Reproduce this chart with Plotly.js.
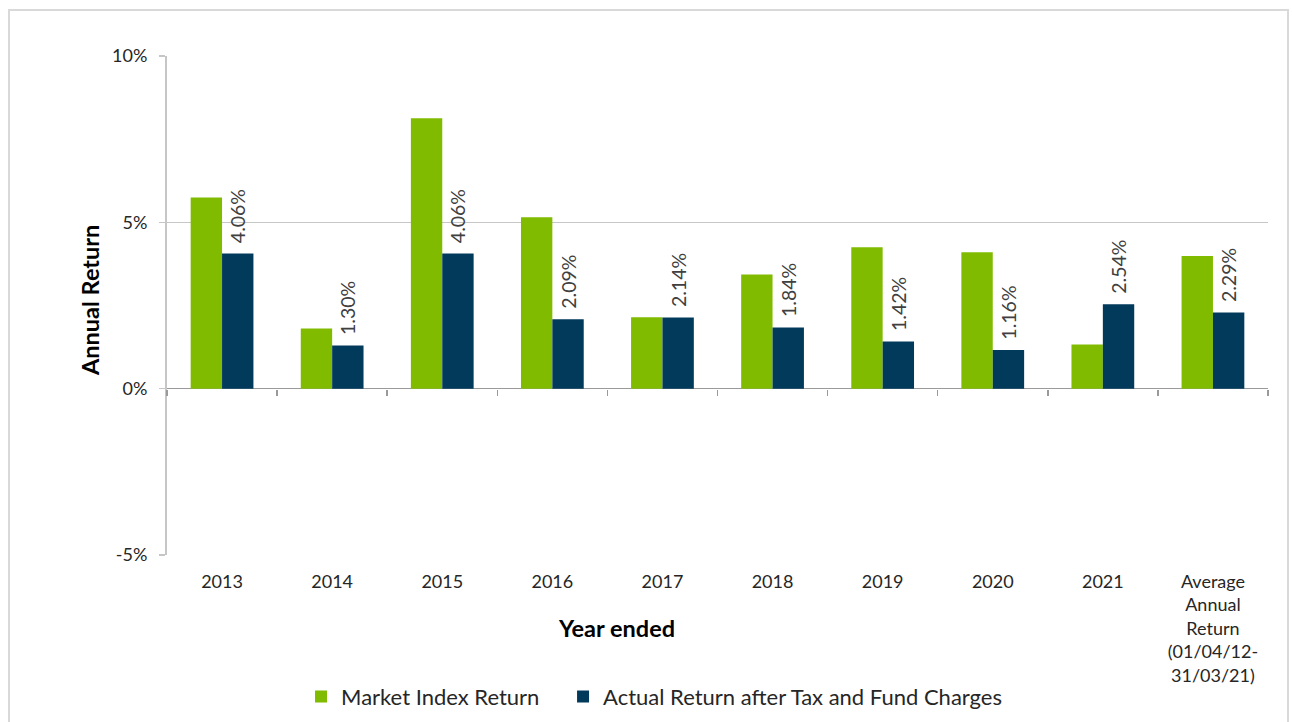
<!DOCTYPE html>
<html>
<head>
<meta charset="utf-8">
<script src="https://cdn.plot.ly/plotly-3.0.1.min.js"></script>
<style>
  html, body { margin: 0; padding: 0; background: #ffffff; }
  #wrap { position: relative; width: 1292px; height: 722px; overflow: hidden; }
  #chart { position: absolute; left: 0; top: 0; width: 1292px; height: 722px; }
  #frame { position: absolute; left: 8px; top: 9px; width: 1281px; height: 730px;
           border: 2px solid #d9d9d9; pointer-events: none; box-sizing: border-box; }
</style>
</head>
<body>
<div id="wrap">
  <div id="chart"></div>
  <div id="frame"></div>
</div>
<script>
const categories = ['2013', '2014', '2015', '2016', '2017', '2018', '2019', '2020', '2021',
  'Average<br>Annual<br>Return<br>(01/04/12-<br>31/03/21)'];
const marketIndexReturn = [5.75, 1.81, 8.13, 5.15, 2.15, 3.43, 4.25, 4.10, 1.33, 3.99];
const actualReturn = [4.06, 1.30, 4.06, 2.09, 2.14, 1.84, 1.42, 1.16, 2.54, 2.29];
const seriesNames = ['Market Index Return', 'Actual Return after Tax and Fund Charges'];
const yTickVals = [-5, 0, 5, 10];
const yTickText = ['-5%', '0%', '5%', '10%'];
const xTitle = 'Year ended';
const yTitle = 'Annual Return';

const FONT = 'Lato, "Open Sans", sans-serif';
const GREEN = '#80bb00';
const NAVY = '#023a5c';
const PAD = '\u00a0\u2009';

const traces = [
  {
    type: 'bar', name: seriesNames[0], x: categories, y: marketIndexReturn,
    marker: { color: GREEN, line: { width: 0 } }, hoverinfo: 'skip', legend: 'legend'
  },
  {
    type: 'bar', name: seriesNames[1], x: categories, y: actualReturn,
    marker: { color: NAVY, line: { width: 0 } }, hoverinfo: 'skip', legend: 'legend2',
    text: actualReturn.map(v => PAD + v.toFixed(2) + '%'),
    textposition: 'outside', textangle: -90, constraintext: 'none', cliponaxis: false,
    textfont: { family: FONT, size: 19.5, color: '#404040' }
  },
  {
    type: 'scatter', mode: 'markers', x: categories, y: categories.map(() => 0),
    xaxis: 'x2', marker: { opacity: 0, size: 1 }, showlegend: false, hoverinfo: 'skip'
  }
];

const legendBase = {
  orientation: 'h', xref: 'container', yref: 'container',
  xanchor: 'left', y: 0.035, yanchor: 'middle',
  font: { family: FONT, size: 22, color: '#262626' }, itemwidth: 30
};

const layout = {
  width: 1292, height: 722,
  margin: { l: 167, r: 24, t: 56, b: 167 },
  paper_bgcolor: 'rgba(0,0,0,0)', plot_bgcolor: 'rgba(0,0,0,0)',
  font: { family: FONT, size: 18, color: '#404040' },
  barmode: 'group', bargap: 0.43, bargroupgap: 0,
  showlegend: true,
  legend: Object.assign({}, legendBase, { x: 0.233 }),
  legend2: Object.assign({}, legendBase, { x: 0.4358 }),
  xaxis: {
    type: 'category', categoryorder: 'array', categoryarray: categories,
    range: [-0.5, categories.length - 0.5],
    showline: false, showgrid: false, zeroline: false, ticks: '',
    tickfont: { family: FONT, size: 18, color: '#262626' },
    ticklabelstandoff: 14, fixedrange: true
  },
  xaxis2: {
    type: 'category', categoryorder: 'array', categoryarray: categories,
    range: [-0.5, categories.length - 0.5],
    overlaying: 'x', anchor: 'free', position: 1 / 3, side: 'bottom',
    tickson: 'boundaries', ticks: 'outside', ticklen: 6, tickwidth: 1.5, tickcolor: '#9a9a9a',
    showticklabels: false, showline: false, showgrid: false, zeroline: false, fixedrange: true
  },
  yaxis: {
    range: [-5, 10], tickvals: yTickVals, ticktext: yTickText,
    showgrid: true, gridcolor: '#c6c6c6', gridwidth: 1.5,
    zeroline: true, zerolinecolor: '#9a9a9a', zerolinewidth: 1.5,
    showline: true, linecolor: '#c6c6c6', linewidth: 2,
    ticks: 'outside', ticklen: 6, tickwidth: 1.5, tickcolor: '#c6c6c6',
    tickfont: { family: FONT, size: 18, color: '#262626' },
    ticklabelstandoff: 8, fixedrange: true
  },
  annotations: [
    {
      text: '<b>' + xTitle + '</b>', xref: 'paper', yref: 'paper',
      x: 0.408, y: -0.146, xanchor: 'center', yanchor: 'middle', showarrow: false,
      font: { family: FONT, size: 23.5, color: '#000000' }
    },
    {
      text: '<b>' + yTitle + '</b>', xref: 'paper', yref: 'paper', textangle: -90,
      x: -0.07, y: 0.511, xanchor: 'center', yanchor: 'middle', showarrow: false,
      font: { family: FONT, size: 23.5, color: '#000000' }
    }
  ]
};

Plotly.newPlot('chart', traces, layout, { displayModeBar: false, staticPlot: true });
</script>
</body>
</html>
